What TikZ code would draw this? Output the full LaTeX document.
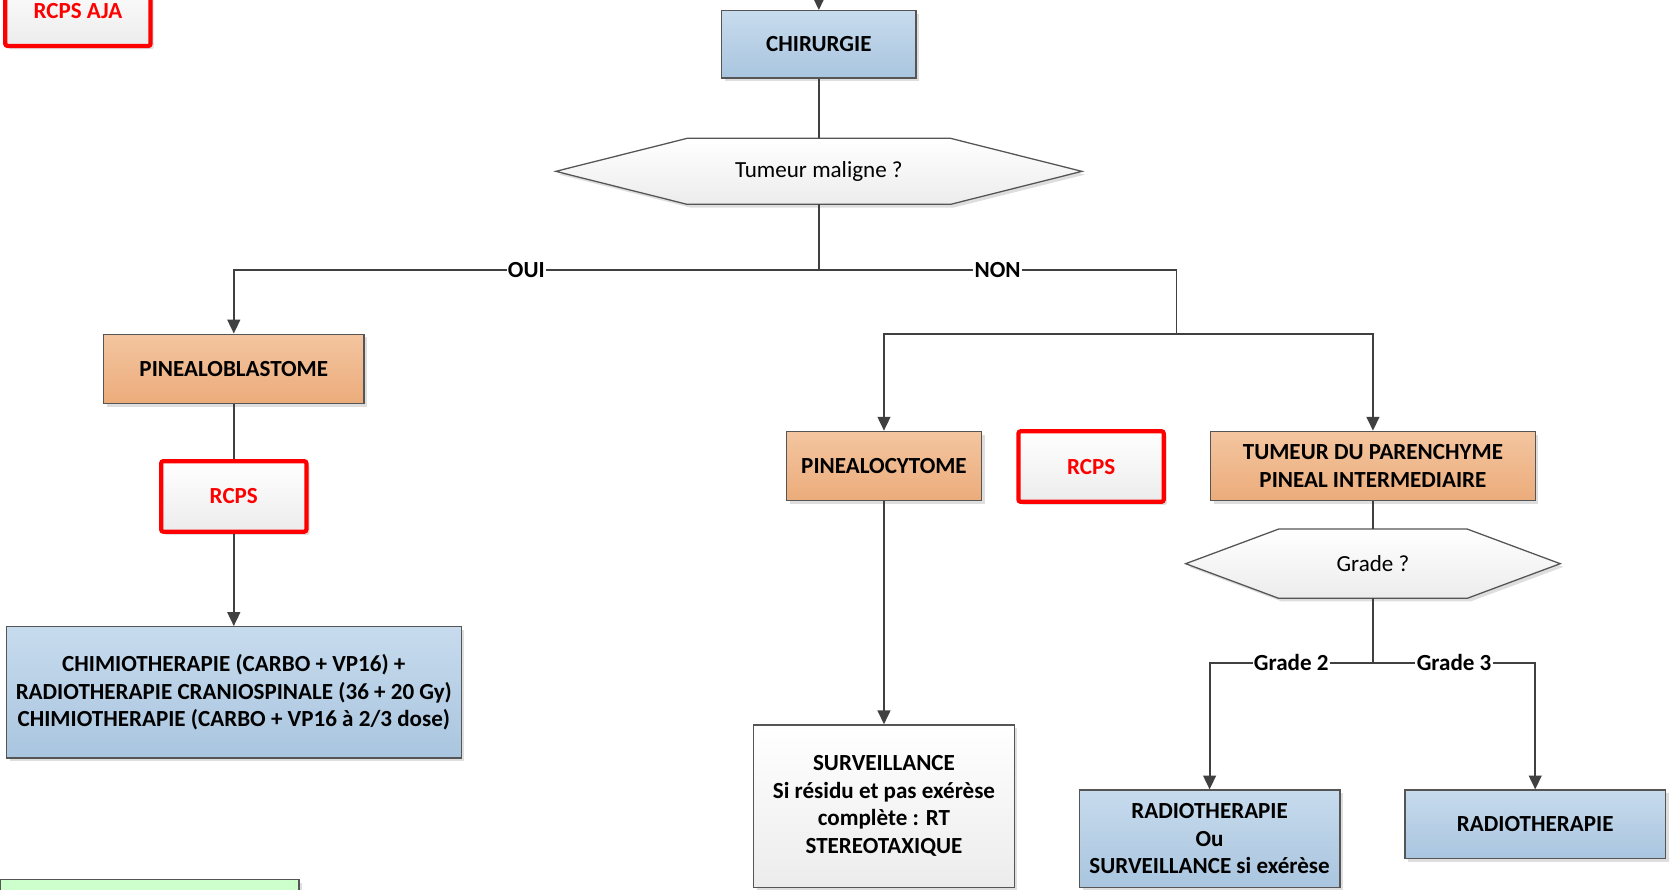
\documentclass[tikz,border=0pt]{standalone}
\usepackage{fontspec}
\setmainfont{Carlito}
\usetikzlibrary{arrows.meta,shadows,backgrounds,calc}
\definecolor{bluetop}{HTML}{C7DBED}
\definecolor{bluebot}{HTML}{A9C5DF}
\definecolor{orgtop}{HTML}{F3C59F}
\definecolor{orgbot}{HTML}{ECAC7B}
\definecolor{lnc}{HTML}{404040}
\definecolor{brd}{HTML}{555555}
\definecolor{grn}{HTML}{CCFFCC}
\definecolor{gtop}{HTML}{FFFFFF}
\definecolor{gbot}{HTML}{ECECEC}
\tikzset{
  txt/.style={font=\fontsize{10.8}{12.9}\selectfont\bfseries, align=center, inner sep=1pt},
  shad/.style={drop shadow={shadow xshift=1.5pt, shadow yshift=-1.5pt, fill=black, opacity=0.13}},
  basebox/.style={txt, rectangle, draw=brd, line width=0.6pt, shad},
  bluebox/.style={basebox, top color=bluetop, bottom color=bluebot},
  orgbox/.style={basebox, top color=orgtop, bottom color=orgbot},
  greybox/.style={basebox, top color=gtop, bottom color=gbot},
  greenbox/.style={basebox, fill=grn},
  redbox/.style={txt, rectangle, draw=red, line width=2pt, rounded corners=1pt, top color=gtop, bottom color=gbot, text=red, shad, minimum width=66pt, minimum height=31pt},
  hexnode/.style={rectangle, inner sep=1pt, font=\fontsize{10.8}{12.9}\selectfont},
  hexfill/.style={draw=brd, line width=0.6pt, top color=gtop, bottom color=gbot, shad},
  conn/.style={draw=lnc, line width=0.9pt},
  arr/.style={conn, -{Triangle[length=6.5pt, width=6pt]}},
  lbl/.style={font=\fontsize{10.8}{12.9}\selectfont\bfseries, fill=white, inner sep=0.6pt}
}
\begin{document}
\begin{tikzpicture}[x=0.5pt, y=-0.5pt]
\begin{scope}[on background layer]
\fill[white] (0,0) rectangle (1568,833);
\end{scope}
\useasboundingbox (0,0) rectangle (1568,833);

% nodes
\node[redbox, minimum width=68pt, minimum height=33pt] (aja) at (73,10) {RCPS AJA};
\node[bluebox, minimum width=91pt, minimum height=31.5pt] (chir) at (767,41.5) {CHIRURGIE};
\coordinate (top) at (767,-12);
\node[hexnode, minimum width=246pt, minimum height=30.5pt] (hex1) at (767,160.5) {Tumeur maligne ?};

\node[orgbox, minimum width=122pt, minimum height=32.5pt] (pb) at (219,345.5) {PINEALOBLASTOME};
\node[redbox, minimum width=68pt, minimum height=33pt] (rcps1) at (219,465) {RCPS};
\node[bluebox, minimum width=213pt, minimum height=61.5pt] (chimio) at (219,648.5)
  {CHIMIOTHERAPIE (CARBO + VP16) +\\RADIOTHERAPIE CRANIOSPINALE (36 + 20 Gy)\\CHIMIOTHERAPIE (CARBO + VP16 à 2/3 dose)};
\node[greenbox, minimum width=140pt, minimum height=36pt] (green) at (140,860) {};

\node[orgbox, minimum width=91.5pt, minimum height=32.5pt] (pcyt) at (828,436.5) {PINEALOCYTOME};
\node[redbox, minimum width=68pt, minimum height=33pt] (rcps2) at (1022,437) {RCPS};
\node[orgbox, minimum width=152pt, minimum height=32.5pt] (tum) at (1286,436.5) {TUMEUR DU PARENCHYME\\PINEAL INTERMEDIAIRE};
\node[hexnode, minimum width=175pt, minimum height=32pt] (hex2) at (1286,528) {Grade ?};

\node[greybox, minimum width=122pt, minimum height=76pt] (surv) at (828,755)
  {SURVEILLANCE\\Si résidu et pas exérèse\\complète : RT\\STEREOTAXIQUE};
\node[bluebox, minimum width=122pt, minimum height=45.5pt] (radio1) at (1133,785.5)
  {RADIOTHERAPIE\\Ou\\SURVEILLANCE si exérèse};
\node[bluebox, minimum width=122pt, minimum height=32pt] (radio2) at (1438,772) {RADIOTHERAPIE};

% hexagon outlines
\begin{scope}[on background layer]
\path[hexfill] (hex1.west) -- ([xshift=61.5pt]hex1.north west) -- ([xshift=-61.5pt]hex1.north east)
  -- (hex1.east) -- ([xshift=-61.5pt]hex1.south east) -- ([xshift=61.5pt]hex1.south west) -- cycle;
\path[hexfill] (hex2.west) -- ([xshift=43.5pt]hex2.north west) -- ([xshift=-43.5pt]hex2.north east)
  -- (hex2.east) -- ([xshift=-43.5pt]hex2.south east) -- ([xshift=43.5pt]hex2.south west) -- cycle;
\end{scope}

% junctions
\coordinate (j1) at (767,253);
\coordinate (j2) at (1102,313);
\coordinate (j3) at (1286,621);

% connectors
\draw[arr] (top) -- (chir.north);
\draw[conn] (chir.south) -- (hex1.north);
\draw[conn] (hex1.south) -- (j1);
\draw[arr] (j1) -| node[lbl, pos=0.25] {OUI} (pb.north);
\draw[conn] (j1) -| node[lbl, pos=0.25] {NON} (j2);
\draw[arr] (j2) -| (pcyt.north);
\draw[arr] (j2) -| (tum.north);
\draw[conn] (pb.south) -- (rcps1.north);
\draw[arr] (rcps1.south) -- (chimio.north);
\draw[arr] (pcyt.south) -- (surv.north);
\draw[conn] (tum.south) -- (hex2.north);
\draw[conn] (hex2.south) -- (j3);
\draw[arr] (j3) -| node[lbl, pos=0.25] {Grade 2} (radio1.north);
\draw[arr] (j3) -| node[lbl, pos=0.25] {Grade 3} (radio2.north);
\end{tikzpicture}
\end{document}
